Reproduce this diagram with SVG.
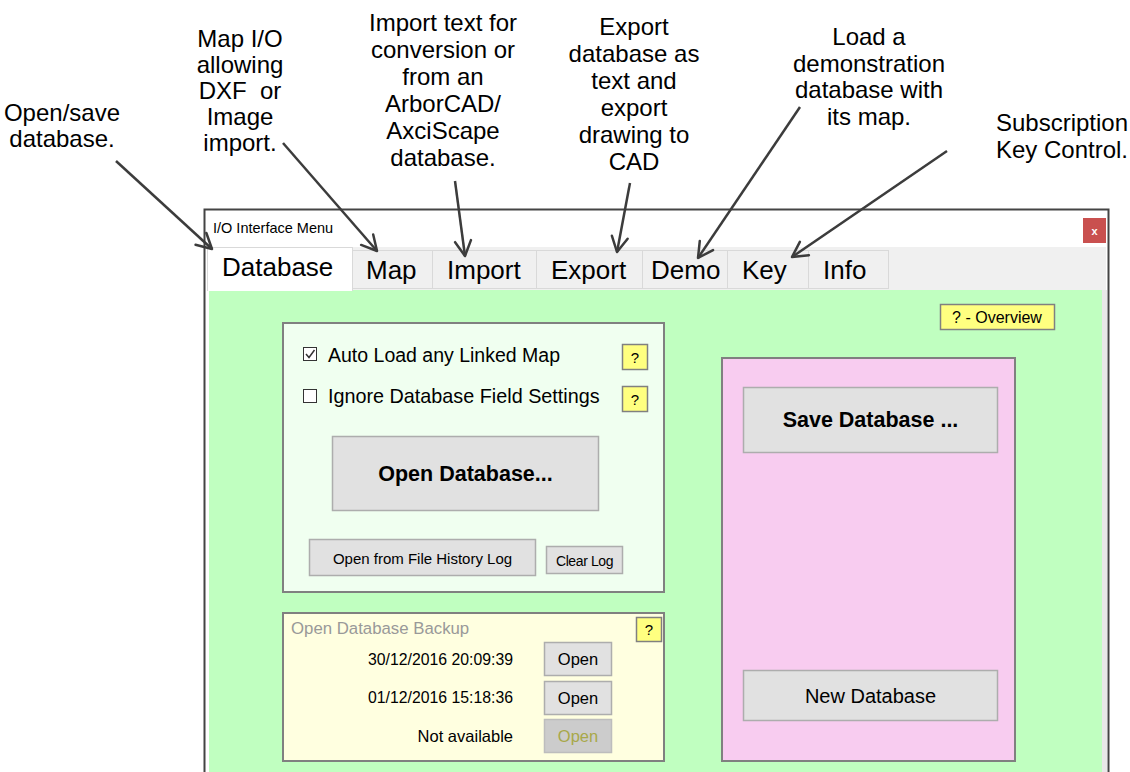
<svg xmlns="http://www.w3.org/2000/svg" width="1130" height="772" viewBox="0 0 1130 772">
<style>
.ann{font-family:"Liberation Sans",Arial,sans-serif;font-size:24px;fill:#000;text-anchor:middle}
.ui{font-family:"Liberation Sans",Arial,sans-serif;fill:#000}
.tab{font-family:"Liberation Sans",Arial,sans-serif;font-size:26px;fill:#000}
.btn{fill:#E1E1E1;stroke:#ADADAD;stroke-width:1.5}
.q{fill:#FFFF80;stroke:#808080;stroke-width:1.5}
.conn{stroke:#3C3C3C;stroke-width:2.5;fill:none;marker-end:url(#ah)}
</style>
<defs>
<marker id="ah" markerUnits="userSpaceOnUse" viewBox="0 0 20 20" markerWidth="20" markerHeight="20" refX="18" refY="10" orient="auto">
<path d="M3,2 L18,10 L3,18" fill="none" stroke="#3C3C3C" stroke-width="2.5" stroke-linecap="round" stroke-linejoin="round"/>
</marker>
</defs>
<rect width="1130" height="772" fill="#fff"/>

<g id="window">
<rect x="204.5" y="209.5" width="904" height="570" fill="#fff" stroke="#444" stroke-width="2"/>
<text x="213" y="233" class="ui" font-size="14.5">I/O Interface Menu</text>
<rect x="1083" y="218" width="23" height="25" fill="#C9504F"/>
<text x="1094.5" y="235" class="ui" font-size="11" font-weight="bold" text-anchor="middle" style="fill:#fff">x</text>
<rect x="207" y="247" width="899" height="43" fill="#F0F0F0"/>
<rect x="1102" y="290" width="5" height="482" fill="#E8E8E8"/>
<rect x="209" y="290" width="893" height="482" fill="#C0FFC0"/>
</g>

<g id="tabs">
<rect x="352.5" y="250.5" width="80" height="38" fill="#F0F0F0" stroke="#D9D9D9"/>
<rect x="432.5" y="250.5" width="104" height="38" fill="#F0F0F0" stroke="#D9D9D9"/>
<rect x="536.5" y="250.5" width="106" height="38" fill="#F0F0F0" stroke="#D9D9D9"/>
<rect x="642.5" y="250.5" width="85" height="38" fill="#F0F0F0" stroke="#D9D9D9"/>
<rect x="727.5" y="250.5" width="81" height="38" fill="#F0F0F0" stroke="#D9D9D9"/>
<rect x="808.5" y="250.5" width="80" height="38" fill="#F0F0F0" stroke="#D9D9D9"/>
<rect x="207.5" y="247.5" width="145" height="43" fill="#fff" stroke="#D9D9D9"/>
<rect x="208" y="288" width="144" height="3" fill="#fff"/>
<text x="222" y="276" class="tab">Database</text>
<text x="366" y="279" class="tab">Map</text>
<text x="447" y="279" class="tab">Import</text>
<text x="551" y="279" class="tab">Export</text>
<text x="651" y="279" class="tab">Demo</text>
<text x="742" y="279" class="tab">Key</text>
<text x="823" y="279" class="tab">Info</text>
</g>

<g id="overview">
<rect x="940.5" y="304.5" width="114" height="25" class="q"/>
<text x="997" y="323" class="ui" font-size="16" text-anchor="middle">? - Overview</text>
</g>

<g id="open-panel">
<rect x="283" y="323" width="381" height="269" fill="#F0FFF0" stroke="#808080" stroke-width="2"/>
<rect x="303.5" y="347.5" width="13" height="13" fill="#fff" stroke="#333" stroke-width="1"/>
<path d="M306,354 L309,357.5 L314.5,350" fill="none" stroke="#333" stroke-width="1.5"/>
<text x="328" y="362" class="ui" font-size="19.5">Auto Load any Linked Map</text>
<rect x="622.5" y="344.5" width="25" height="25" class="q"/>
<text x="635" y="363" class="ui" font-size="15" text-anchor="middle">?</text>
<rect x="303.5" y="389.5" width="13" height="13" fill="#fff" stroke="#333" stroke-width="1"/>
<text x="328" y="403" class="ui" font-size="19.8">Ignore Database Field Settings</text>
<rect x="622.5" y="386.5" width="25" height="25" class="q"/>
<text x="635" y="405" class="ui" font-size="15" text-anchor="middle">?</text>
<rect x="332.5" y="436.5" width="266" height="74" class="btn"/>
<text x="465.5" y="481" class="ui" font-size="21.5" font-weight="bold" text-anchor="middle">Open Database...</text>
<rect x="309.5" y="539.5" width="226" height="36" class="btn"/>
<text x="422.5" y="564" class="ui" font-size="15" text-anchor="middle">Open from File History Log</text>
<rect x="546.5" y="546.5" width="76" height="27" class="btn"/>
<text x="584.5" y="566" class="ui" font-size="14" text-anchor="middle" letter-spacing="-0.4">Clear Log</text>
</g>

<g id="backup-panel">
<rect x="283" y="613" width="381" height="148" fill="#FFFFE0" stroke="#808080" stroke-width="2"/>
<text x="291" y="634" class="ui" font-size="16.8" style="fill:#999">Open Database Backup</text>
<rect x="636.5" y="617.5" width="25" height="24" class="q"/>
<text x="649" y="635" class="ui" font-size="15" text-anchor="middle">?</text>
<text x="513" y="665" class="ui" font-size="15.8" text-anchor="end">30/12/2016 20:09:39</text>
<rect x="544.5" y="642.5" width="67" height="33" class="btn"/>
<text x="578" y="665" class="ui" font-size="16.5" text-anchor="middle">Open</text>
<text x="513" y="703" class="ui" font-size="15.8" text-anchor="end">01/12/2016 15:18:36</text>
<rect x="544.5" y="681.5" width="67" height="33" class="btn"/>
<text x="578" y="704" class="ui" font-size="16.5" text-anchor="middle">Open</text>
<text x="513" y="742" class="ui" font-size="16.5" text-anchor="end">Not available</text>
<rect x="544.5" y="719.5" width="67" height="33" fill="#CCCCCC" stroke="#BDBDBD" stroke-width="1.5"/>
<text x="578" y="742" class="ui" font-size="16.5" text-anchor="middle" style="fill:#A8A84A">Open</text>
</g>

<g id="save-panel">
<rect x="722" y="358" width="293" height="403" fill="#F8CCF0" stroke="#808080" stroke-width="2"/>
<rect x="743.5" y="387.5" width="254" height="65" class="btn"/>
<text x="870.5" y="427" class="ui" font-size="21.5" font-weight="bold" text-anchor="middle">Save Database ...</text>
<rect x="743.5" y="670.5" width="254" height="50" class="btn"/>
<text x="870.5" y="703" class="ui" font-size="20" text-anchor="middle">New Database</text>
</g>

<g id="annotations">
<text class="ann" x="62" y="121">Open/save<tspan x="62" dy="26">database.</tspan></text>
<text class="ann" x="240" y="47">Map I/O<tspan x="240" dy="26">allowing</tspan><tspan x="240" dy="26">DXF&#160; or</tspan><tspan x="240" dy="26">Image</tspan><tspan x="240" dy="26">import.</tspan></text>
<text class="ann" x="443" y="31">Import text for<tspan x="443" dy="27">conversion or</tspan><tspan x="443" dy="27">from an</tspan><tspan x="443" dy="27">ArborCAD/</tspan><tspan x="443" dy="27">AxciScape</tspan><tspan x="443" dy="27">database.</tspan></text>
<text class="ann" x="634" y="35">Export<tspan x="634" dy="27">database as</tspan><tspan x="634" dy="27">text and</tspan><tspan x="634" dy="27">export</tspan><tspan x="634" dy="27">drawing to</tspan><tspan x="634" dy="27">CAD</tspan></text>
<text class="ann" x="869" y="45">Load a<tspan x="869" dy="26.5">demonstration</tspan><tspan x="869" dy="26.5">database with</tspan><tspan x="869" dy="26.5">its map.</tspan></text>
<text class="ann" x="1062" y="131">Subscription<tspan x="1062" dy="27">Key Control.</tspan></text>
</g>

<g id="connectors">
<path class="conn" d="M116,161 L212,249"/>
<path class="conn" d="M283,143 L377,251"/>
<path class="conn" d="M455,181 L465,256"/>
<path class="conn" d="M630,183 L617,252"/>
<path class="conn" d="M800,107 L698,258"/>
<path class="conn" d="M947,151 L792,257"/>
</g>
</svg>
